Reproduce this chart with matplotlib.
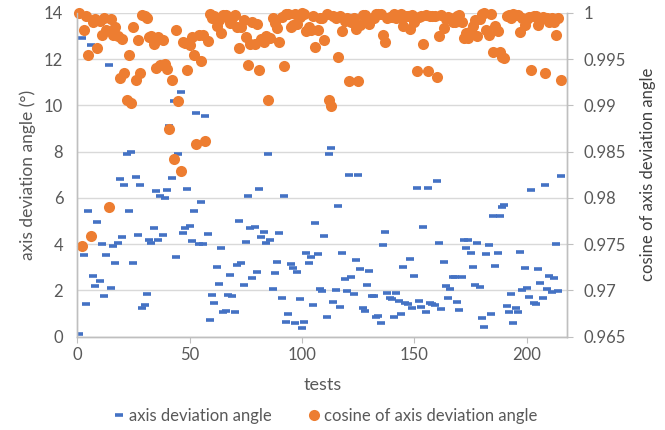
import matplotlib.pyplot as plt

plt.rcParams['font.family'] = ['Lato', 'DejaVu Sans']

# axis deviation angle (degrees), one value per test
angle = [0.12, 12.9, 3.53, 1.41, 5.43, 12.6, 2.62, 2.19, 4.97, 2.4,
         3.99, 1.76, 3.53, 11.76, 2.09, 3.93, 3.17, 4.07, 6.8, 4.29,
         6.55, 7.88, 5.43, 8.0, 3.17, 6.9, 4.38, 6.55, 1.25, 1.37,
         1.84, 4.16, 4.07, 4.7, 6.3, 4.16, 6.07, 4.38, 6.0, 6.34,
         9.1, 6.88, 10.2, 3.43, 7.92, 10.6, 4.49, 4.68, 6.4, 4.8,
         4.15, 5.43, 9.68, 3.99, 5.83, 3.99, 9.53, 4.42, 0.71, 1.8,
         1.47, 3.0, 2.27, 3.84, 1.08, 1.11, 1.8, 2.66, 1.76, 1.08,
         3.12, 5.01, 3.17, 2.23, 4.1, 6.08, 4.71, 2.55, 4.75, 2.78,
         6.4, 4.32, 4.54, 4.03, 7.88, 4.19, 2.06, 2.74, 3.21, 4.49,
         1.68, 6.1, 0.62, 0.99, 3.14, 2.95, 0.58, 2.78, 1.63, 0.36,
         0.65, 3.64, 3.17, 3.43, 1.37, 4.92, 3.56, 2.06, 1.99, 4.36,
         0.86, 7.88, 8.14, 1.51, 2.02, 5.64, 1.3, 3.64, 2.48, 1.97,
         6.97, 2.56, 1.86, 3.31, 6.97, 2.91, 1.22, 1.11, 2.23, 2.84,
         1.77, 1.77, 0.86, 0.91, 0.58, 3.96, 4.54, 1.87, 1.68, 1.63,
         0.83, 1.87, 1.54, 0.98, 3.0, 1.44, 1.41, 3.34, 1.22, 2.62,
         6.42, 1.56, 1.3, 4.75, 1.05, 6.42, 1.47, 1.41, 1.37, 6.75,
         4.03, 1.21, 3.21, 2.19, 1.68, 2.06, 2.56, 2.56, 1.51, 1.15,
         2.56, 4.2, 3.82, 4.2, 3.6, 3.0, 2.23, 4.07, 2.13, 0.82,
         0.43, 3.56, 3.96, 0.98, 5.23, 3.05, 3.64, 5.23, 5.62, 5.69,
         1.33, 1.05, 1.84, 0.6, 1.22, 1.08, 3.67, 2.02, 2.95, 2.12,
         1.7, 6.36, 1.47, 1.4, 2.91, 2.33, 1.66, 6.55, 2.06, 2.62,
         1.92, 2.52, 3.99, 1.97, 6.94]

# cosine of the axis deviation angle
cosine = [1.0000, 0.9748, 0.9981, 0.9997, 0.9955, 0.9759, 0.9990, 0.9993, 0.9962, 0.9991,
          0.9976, 0.9995, 0.9981, 0.9790, 0.9993, 0.9976, 0.9985, 0.9975, 0.9930, 0.9972,
          0.9935, 0.9906, 0.9955, 0.9903, 0.9985, 0.9928, 0.9971, 0.9935, 0.9998, 0.9997,
          0.9995, 0.9974, 0.9975, 0.9966, 0.9940, 0.9974, 0.9944, 0.9971, 0.9945, 0.9939,
          0.9874, 0.9928, 0.9842, 0.9982, 0.9905, 0.9829, 0.9969, 0.9967, 0.9938, 0.9965,
          0.9974, 0.9955, 0.9858, 0.9976, 0.9948, 0.9976, 0.9862, 0.9970, 0.9999, 0.9995,
          0.9997, 0.9986, 0.9992, 0.9978, 0.9998, 0.9998, 0.9995, 0.9989, 0.9995, 0.9998,
          0.9985, 0.9962, 0.9985, 0.9992, 0.9974, 0.9944, 0.9966, 0.9990, 0.9966, 0.9988,
          0.9938, 0.9972, 0.9969, 0.9975, 0.9906, 0.9973, 0.9994, 0.9989, 0.9984, 0.9969,
          0.9996, 0.9943, 0.9999, 0.9999, 0.9985, 0.9987, 0.9999, 0.9988, 0.9996, 1.0000,
          0.9999, 0.9980, 0.9985, 0.9982, 0.9997, 0.9963, 0.9981, 0.9994, 0.9994, 0.9971,
          0.9999, 0.9906, 0.9899, 0.9997, 0.9994, 0.9952, 0.9997, 0.9980, 0.9991, 0.9994,
          0.9926, 0.9990, 0.9995, 0.9983, 0.9926, 0.9987, 0.9998, 0.9998, 0.9992, 0.9988,
          0.9995, 0.9995, 0.9999, 0.9999, 0.9999, 0.9976, 0.9969, 0.9995, 0.9996, 0.9996,
          0.9999, 0.9995, 0.9996, 0.9999, 0.9986, 0.9997, 0.9997, 0.9983, 0.9998, 0.9990,
          0.9937, 0.9996, 0.9997, 0.9966, 0.9998, 0.9937, 0.9997, 0.9997, 0.9997, 0.9931,
          0.9975, 0.9998, 0.9984, 0.9993, 0.9996, 0.9994, 0.9990, 0.9990, 0.9997, 0.9998,
          0.9990, 0.9973, 0.9978, 0.9973, 0.9980, 0.9986, 0.9992, 0.9975, 0.9993, 0.9999,
          1.0000, 0.9981, 0.9976, 0.9999, 0.9958, 0.9986, 0.9980, 0.9958, 0.9952, 0.9951,
          0.9997, 0.9998, 0.9995, 0.9999, 0.9998, 0.9998, 0.9979, 0.9994, 0.9987, 0.9993,
          0.9996, 0.9938, 0.9997, 0.9997, 0.9987, 0.9992, 0.9996, 0.9935, 0.9994, 0.9990,
          0.9994, 0.9990, 0.9976, 0.9994, 0.9927]

tests = list(range(1, len(angle) + 1))

x_ticks = [0, 50, 100, 150, 200]
left_ticks = [0, 2, 4, 6, 8, 10, 12, 14]
right_ticks = [0.965, 0.97, 0.975, 0.98, 0.985, 0.99, 0.995, 1]
right_labels = ['0.965', '0.97', '0.975', '0.98', '0.985', '0.99', '0.995', '1']

grey = '#595959'
line_grey = '#bfbfbf'

fig = plt.figure(figsize=(6.65, 4.3), dpi=100)
ax = fig.add_axes([0.116, 0.217, 0.737, 0.753])
ax2 = ax.twinx()

ax.plot(tests, angle, linestyle='none', marker='_', color='#4472C4',
        markersize=6, markeredgewidth=2.6, label='axis deviation angle')
ax2.plot(tests, cosine, linestyle='none', marker='o', color='#ED7D31',
         markersize=8, markeredgewidth=0, clip_on=False,
         label='cosine of axis deviation angle')

ax.set_xlim(0, 218)
ax.set_ylim(0, 14)
ax2.set_ylim(0.965, 1)
ax.set_xticks(x_ticks)
ax.set_yticks(left_ticks)
ax2.set_yticks(right_ticks)
ax2.set_yticklabels(right_labels)

ax.yaxis.grid(True, color='#d9d9d9', linewidth=1)
ax.set_axisbelow(True)

for a in (ax, ax2):
    a.spines['top'].set_visible(False)
    for s in ('left', 'bottom', 'right'):
        a.spines[s].set_color(line_grey)
        a.spines[s].set_linewidth(1)
    a.tick_params(colors=grey, labelsize=12, length=4, color=line_grey)
ax.tick_params(axis='y', length=0, pad=10)
ax2.tick_params(axis='y', length=4, pad=8)

ax.set_xlabel('tests', fontsize=13, color=grey, labelpad=10)
ax.set_ylabel('axis deviation angle (°)', fontsize=12.5, color=grey, labelpad=6)
ax2.set_ylabel('cosine of axis deviation angle', fontsize=12, color='#404040',
               labelpad=10)

h1, l1 = ax.get_legend_handles_labels()
h2, l2 = ax2.get_legend_handles_labels()
fig.legend(h1 + h2, l1 + l2, loc='lower center', bbox_to_anchor=(0.49, -0.02),
           ncol=2, frameon=False, fontsize=12, labelcolor=grey,
           handlelength=0.6, handletextpad=0.3, columnspacing=2.2)

fig.savefig('out.png', dpi=100)
